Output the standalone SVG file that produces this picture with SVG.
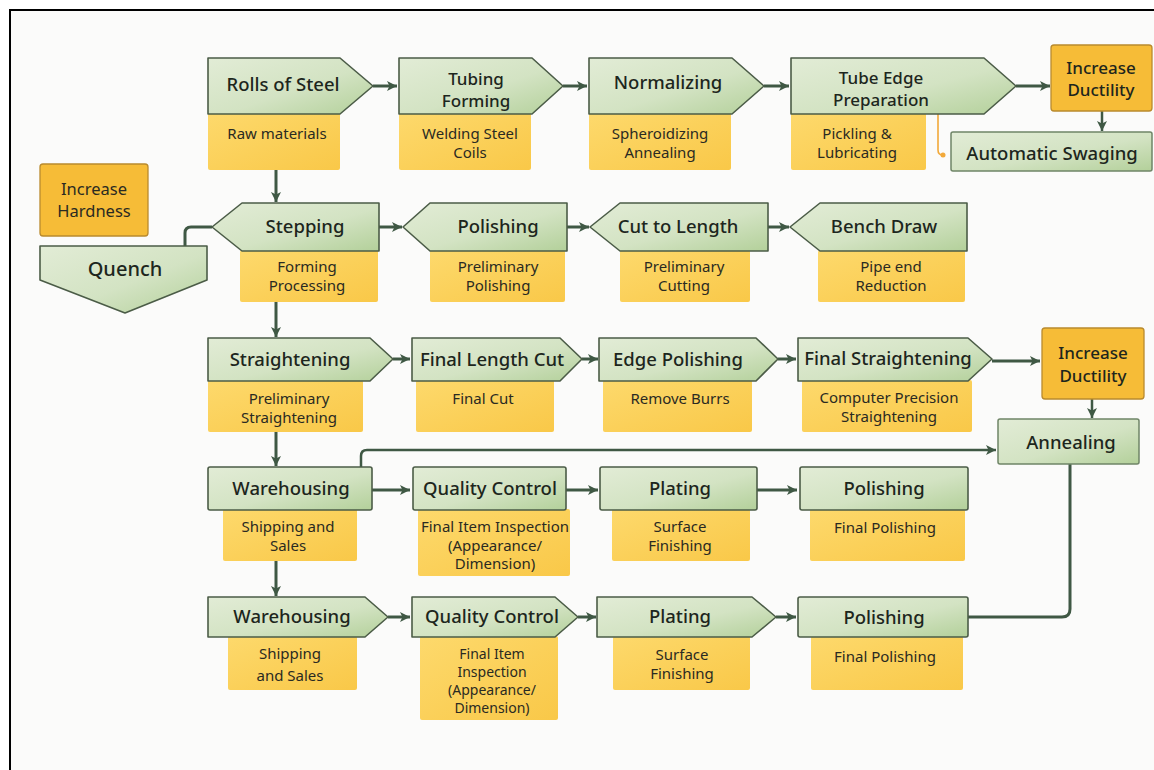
<svg xmlns="http://www.w3.org/2000/svg" width="1154" height="770" viewBox="0 0 1154 770">
<defs>
<linearGradient id="gG" x1="0" y1="0" x2="1" y2="1"><stop offset="0" stop-color="#e2ecd6"/><stop offset="0.55" stop-color="#d3e3c3"/><stop offset="1" stop-color="#b3d09a"/></linearGradient>
<linearGradient id="gY" x1="0" y1="0" x2="1" y2="1"><stop offset="0" stop-color="#fdd96c"/><stop offset="1" stop-color="#f9c848"/></linearGradient>
<marker id="ah" markerUnits="userSpaceOnUse" markerWidth="12" markerHeight="12" refX="11" refY="6" orient="auto"><path d="M1,1 L11,6 L1,11 L3.5,6 z" fill="#3f5844"/></marker>
</defs>
<style>
.g{fill:url(#gG);stroke:#4b5c47;stroke-width:1.6;stroke-linejoin:round}
.gl{fill:url(#gG);stroke:#6f8567;stroke-width:1.5}
.y{fill:url(#gY);stroke:none}
.o{fill:#f6bc37;stroke:#b98a2e;stroke-width:1.3}
.t{font-family:"Noto Sans","Liberation Sans",sans-serif;font-size:18.5px;font-weight:500;fill:#1d261d;text-anchor:middle;dominant-baseline:central}
.t2{font-size:17px}
.s{font-family:"Noto Sans","Liberation Sans",sans-serif;font-size:15px;font-weight:400;fill:#2a2a22;text-anchor:middle;dominant-baseline:central}
.s4{font-size:14px}
.c{fill:none;stroke:#3f5844;stroke-width:3;stroke-linejoin:round}
.ca{fill:none;stroke:#3f5844;stroke-width:3;marker-end:url(#ah)}
</style>
<rect x="0" y="0" width="1154" height="770" fill="#ffffff"/>
<rect x="10" y="10" width="1144" height="760" fill="#fbfbfa"/>
<path d="M10,770 V10 H1154" fill="none" stroke="#000" stroke-width="2"/>

<g id="connectors">
<line class="ca" x1="373" y1="86" x2="397" y2="86"/>
<line class="ca" x1="563" y1="86" x2="587" y2="86"/>
<line class="ca" x1="764" y1="86" x2="789" y2="86"/>
<line class="ca" x1="1016" y1="86" x2="1050" y2="86"/>
<line class="ca" x1="1102" y1="111" x2="1102" y2="131" style="stroke-width:2.5"/>
<line class="ca" x1="276" y1="170" x2="276" y2="202"/>
<line class="ca" x1="379" y1="227" x2="402" y2="227"/>
<line class="ca" x1="567" y1="227" x2="589" y2="227"/>
<line class="ca" x1="768" y1="227" x2="789" y2="227"/>
<path class="c" d="M185,246 V233 Q185,227 191,227 H212"/>
<line class="ca" x1="276" y1="302" x2="276" y2="337"/>
<line class="ca" x1="393" y1="359" x2="410" y2="359"/>
<line class="ca" x1="582" y1="359" x2="598" y2="359"/>
<line class="ca" x1="778" y1="359" x2="796" y2="359"/>
<line class="ca" x1="992" y1="361" x2="1040" y2="361"/>
<line class="ca" x1="1092" y1="399" x2="1092" y2="418" style="stroke-width:2.5"/>
<line class="ca" x1="276" y1="432" x2="276" y2="466"/>
<path class="ca" d="M361,467 V456 Q361,450 367,450 H996" style="stroke-width:2.5"/>
<line class="ca" x1="372" y1="490" x2="410" y2="490"/>
<line class="ca" x1="566" y1="490" x2="598" y2="490"/>
<line class="ca" x1="757" y1="490" x2="797" y2="490"/>
<line class="ca" x1="276" y1="561" x2="276" y2="596"/>
<line class="ca" x1="388" y1="617" x2="410" y2="617"/>
<line class="ca" x1="578" y1="617" x2="596" y2="617"/>
<line class="ca" x1="776" y1="617" x2="796" y2="617"/>
<path class="c" d="M1070,464 V609 Q1070,617 1062,617 H968"/>
<path d="M938,114 V150 Q938,155 943,155" fill="none" stroke="#f2a93a" stroke-width="1.6"/>
<circle cx="943" cy="155" r="2.5" fill="#f2a93a"/>
</g>

<g id="n-rolls"><rect class="y" x="208" y="113" width="132" height="57" rx="2"/><path class="g" d="M208,58 H340 L373,86 L340,114 H208 Z"/><text class="t" x="283" y="83">Rolls of Steel</text><text class="s" x="277" y="133">Raw materials</text></g>
<g id="n-tubing"><rect class="y" x="399" y="113" width="132" height="57" rx="2"/><path class="g" d="M399,58 H532 L563,86 L532,114 H399 Z"/><text class="t t2" x="476" y="78">Tubing</text><text class="t t2" x="476" y="100">Forming</text><text class="s" x="470" y="133">Welding Steel</text><text class="s" x="470" y="152">Coils</text></g>
<g id="n-normalizing"><rect class="y" x="589" y="113" width="142" height="57" rx="2"/><path class="g" d="M589,58 H732 L764,86 L732,114 H589 Z"/><text class="t" x="668" y="81">Normalizing</text><text class="s" x="660" y="133">Spheroidizing</text><text class="s" x="660" y="152">Annealing</text></g>
<g id="n-tubeedge"><rect class="y" x="791" y="113" width="135" height="57" rx="2"/><path class="g" d="M791,58 H984 L1016,86 L984,114 H791 Z"/><text class="t t2" x="881" y="77">Tube Edge</text><text class="t t2" x="881" y="99">Preparation</text><text class="s" x="857" y="133">Pickling &amp;</text><text class="s" x="857" y="152">Lubricating</text></g>
<g id="n-ductility1"><rect class="o" x="1051" y="45" width="101" height="66" rx="3"/><text class="t t2" x="1101" y="67">Increase</text><text class="t t2" x="1101" y="89">Ductility</text></g>
<g id="n-swaging"><rect class="gl" x="951" y="132" width="201" height="39" rx="2"/><text class="t" x="1052" y="152">Automatic Swaging</text></g>
<g id="n-hardness"><rect class="o" x="40" y="164" width="108" height="72" rx="3"/><text class="s" x="94" y="188" style="font-size:16.5px">Increase</text><text class="s" x="94" y="210" style="font-size:16.5px">Hardness</text></g>

<g id="n-quench"><path class="g" d="M40,246 H207 V280 L125,313 L40,280 Z"/><text class="t" x="125" y="268" style="font-size:20px">Quench</text></g>
<g id="n-stepping"><rect class="y" x="240" y="250" width="138" height="52" rx="2"/><path class="g" d="M212,227 L242,203 H379 V251 H242 Z"/><text class="t" x="305" y="225">Stepping</text><text class="s" x="307" y="266">Forming</text><text class="s" x="307" y="285">Processing</text></g>
<g id="n-polishing1"><rect class="y" x="430" y="250" width="135" height="52" rx="2"/><path class="g" d="M403,227 L430,203 H567 V251 H430 Z"/><text class="t" x="498" y="225">Polishing</text><text class="s" x="498" y="266">Preliminary</text><text class="s" x="498" y="285">Polishing</text></g>
<g id="n-cut"><rect class="y" x="620" y="250" width="130" height="52" rx="2"/><path class="g" d="M590,227 L620,203 H768 V251 H620 Z"/><text class="t" x="678" y="225">Cut to Length</text><text class="s" x="684" y="266">Preliminary</text><text class="s" x="684" y="285">Cutting</text></g>
<g id="n-bench"><rect class="y" x="818" y="250" width="147" height="52" rx="2"/><path class="g" d="M790,227 L820,203 H967 V251 H820 Z"/><text class="t" x="884" y="225">Bench Draw</text><text class="s" x="891" y="266">Pipe end</text><text class="s" x="891" y="285">Reduction</text></g>

<g id="n-straightening"><rect class="y" x="208" y="380" width="155" height="52" rx="2"/><path class="g" d="M208,338 H370 L393,359 L370,381 H208 Z"/><text class="t" x="290" y="358">Straightening</text><text class="s" x="289" y="398">Preliminary</text><text class="s" x="289" y="417">Straightening</text></g>
<g id="n-finallength"><rect class="y" x="416" y="380" width="138" height="52" rx="2"/><path class="g" d="M412,338 H560 L582,359 L560,381 H412 Z"/><text class="t" x="492" y="358">Final Length Cut</text><text class="s" x="483" y="398">Final Cut</text></g>
<g id="n-edgepolishing"><rect class="y" x="603" y="380" width="149" height="52" rx="2"/><path class="g" d="M599,338 H756 L778,359 L756,381 H599 Z"/><text class="t" x="678" y="358">Edge Polishing</text><text class="s" x="680" y="398">Remove Burrs</text></g>
<g id="n-finalstraight"><rect class="y" x="802" y="380" width="170" height="52" rx="2"/><path class="g" d="M798,338 H968 L992,359 L968,381 H798 Z"/><text class="t" x="888" y="357">Final Straightening</text><text class="s" x="889" y="397">Computer Precision</text><text class="s" x="889" y="416">Straightening</text></g>
<g id="n-ductility2"><rect class="o" x="1042" y="328" width="102" height="71" rx="3"/><text class="t t2" x="1093" y="352">Increase</text><text class="t t2" x="1093" y="375">Ductility</text></g>
<g id="n-annealing"><rect class="gl" x="998" y="419" width="141" height="45" rx="2"/><text class="t" x="1071" y="441">Annealing</text></g>

<g id="n-warehousing1"><rect class="y" x="223" y="509" width="134" height="52" rx="2"/><rect class="g" x="208" y="467" width="164" height="43" rx="2"/><text class="t" x="291" y="487">Warehousing</text><text class="s" x="288" y="526">Shipping and</text><text class="s" x="288" y="545">Sales</text></g>
<g id="n-qc1"><rect class="y" x="418" y="509" width="152" height="67" rx="2"/><rect class="g" x="413" y="467" width="153" height="43" rx="2"/><text class="t" x="490" y="487">Quality Control</text><text class="s" x="495" y="526">Final Item Inspection</text><text class="s" x="495" y="545">(Appearance/</text><text class="s" x="495" y="563">Dimension)</text></g>
<g id="n-plating1"><rect class="y" x="612" y="509" width="138" height="52" rx="2"/><rect class="g" x="600" y="467" width="157" height="43" rx="2"/><text class="t" x="680" y="487">Plating</text><text class="s" x="680" y="526">Surface</text><text class="s" x="680" y="545">Finishing</text></g>
<g id="n-polishing2"><rect class="y" x="810" y="509" width="155" height="52" rx="2"/><rect class="g" x="800" y="467" width="168" height="43" rx="2"/><text class="t" x="884" y="487">Polishing</text><text class="s" x="885" y="527">Final Polishing</text></g>

<g id="n-warehousing2"><rect class="y" x="228" y="636" width="129" height="54" rx="2"/><path class="g" d="M208,597 H365 L388,617 L365,637 H208 Z"/><text class="t" x="292" y="615">Warehousing</text><text class="s" x="290" y="653">Shipping</text><text class="s" x="290" y="675">and Sales</text></g>
<g id="n-qc2"><rect class="y" x="420" y="636" width="138" height="84" rx="2"/><path class="g" d="M412,597 H555 L578,617 L555,637 H412 Z"/><text class="t" x="492" y="615">Quality Control</text><text class="s s4" x="492" y="653">Final Item</text><text class="s s4" x="492" y="671">Inspection</text><text class="s s4" x="492" y="689">(Appearance/</text><text class="s s4" x="492" y="707">Dimension)</text></g>
<g id="n-plating2"><rect class="y" x="613" y="636" width="137" height="54" rx="2"/><path class="g" d="M597,597 H752 L776,617 L752,637 H597 Z"/><text class="t" x="680" y="615">Plating</text><text class="s" x="682" y="654">Surface</text><text class="s" x="682" y="673">Finishing</text></g>
<g id="n-polishing3"><rect class="y" x="811" y="636" width="152" height="54" rx="2"/><rect class="g" x="798" y="597" width="170" height="40" rx="2"/><text class="t" x="884" y="616">Polishing</text><text class="s" x="885" y="656">Final Polishing</text></g>
</svg>
